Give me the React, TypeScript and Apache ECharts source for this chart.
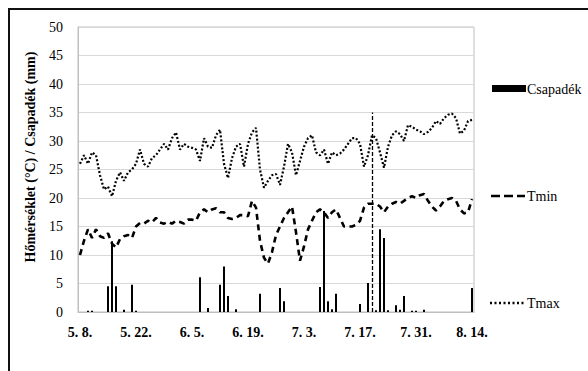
import React, { useEffect, useRef } from "react";
import * as echarts from "echarts";

// 99 daily categories, 8 May to 14 August
const startMonth = 5;
const startDay = 8;
const dayCount = 99;
const monthLengths: Record<number, number> = { 5: 31, 6: 30, 7: 31, 8: 31 };
const categories: string[] = [];
{
  let m = startMonth;
  let d = startDay;
  for (let k = 0; k < dayCount; k++) {
    categories.push(`${m}. ${d}.`);
    d++;
    if (d > monthLengths[m]) {
      d = 1;
      m++;
    }
  }
}

const rain = [
  0, 0, 0.2, 0.2, 0, 0, 0, 4.5, 12.4, 4.5,
  0, 0.4, 0, 4.8, 0.2, 0, 0, 0, 0, 0,
  0, 0, 0, 0, 0, 0, 0, 0, 0, 0,
  6.1, 0, 0.7, 0, 0, 4.8, 8, 2.8, 0, 0.5,
  0, 0, 0, 0, 0, 3.2, 0, 0, 0, 0,
  4.2, 1.9, 0, 0, 0, 0, 0, 0, 0, 0,
  4.4, 17.7, 1.9, 0.5, 3.2, 0, 0, 0, 0, 0,
  1.4, 0, 5.1, 0, 0.3, 14.5, 13, 0.3, 0, 1.2,
  0.4, 2.8, 0, 0.2, 0.2, 0, 0.4, 0, 0, 0,
  0, 0, 0, 0, 0, 0, 0, 0, 4.2,
];

const tmin = [
  10, 12.5, 14.5, 13, 14.5, 13.3, 13, 13.8, 12, 11.3,
  12.8, 13.3, 13.5, 13, 15, 15.6, 15.5, 16, 15.7, 16.5,
  15.7, 15.5, 15.8, 15.5, 16, 15.8, 15.5, 16.2, 16.2, 16,
  17.5, 18, 17.5, 18, 18.2, 17.5, 17.5, 16.5, 16.3, 16.5,
  17, 17, 16.8, 19.5, 18.3, 12.5, 9.5, 8.5, 10.5, 13.5,
  15, 16.5, 17.5, 18.5, 14, 9, 11.5, 14.5, 16, 17.5,
  18, 17.5, 16.5, 17.5, 18, 16.5, 15, 15, 15, 15.3,
  16, 18.3, 19, 19, 19, 18.5, 17.5, 18.5, 19, 19.3,
  19, 19.5, 20, 20.3, 20, 20.5, 20.7, 19.5, 18.5, 17.8,
  18.5, 19.5, 19.8, 20, 19.5, 18, 17.3, 17.5, 19.8,
];

const tmax = [
  26, 27.5, 26, 28, 27.5, 24, 21.5, 22, 20.3, 23,
  24.5, 23, 24.5, 25, 26, 28.5, 26, 25.5, 27, 27.5,
  28.5, 29.5, 28.5, 30.5, 31.5, 28.5, 29.5, 29, 28.8, 28.5,
  26.5, 30.5, 29, 28.8, 31, 32, 26, 23.5, 27, 29,
  29.5, 25.5, 29.5, 31.5, 32.3, 25, 21.8, 23, 24, 24.2,
  22.3, 25.5, 29.5, 28, 24, 26.5, 29, 30.5, 31, 28,
  27.5, 28.5, 26, 28, 27.5, 27.8, 28.5, 29.5, 30.5, 30.5,
  29.5, 25.5, 27.5, 31, 30.5, 28, 25.3, 29, 31, 31.7,
  31.2, 30, 32.8, 32.5, 32, 31.7, 31.2, 31.6, 32.3, 33.5,
  33, 34, 34.6, 34.8, 34, 31.3, 31.8, 33.5, 33.7,
];

const markerDayIndex = 73;
const markerTop = 35;

const yTitle = "Hőmérséklet (°C) / Csapadék (mm)";
const legendNames = ["Csapadék", "Tmin", "Tmax"];

const SERIF = "Liberation Serif";

const legendText = (text: string, y: number) => ({
  type: "text",
  x: 527,
  y,
  style: {
    text,
    fontFamily: SERIF,
    fontSize: 14,
    fill: "#000",
    align: "left",
    verticalAlign: "middle",
  },
});

export default function App() {
  const ref = useRef<HTMLDivElement>(null);

  useEffect(() => {
    if (!ref.current) return;
    const chart = echarts.init(ref.current, undefined, { renderer: "svg" });
    chart.setOption({
      animation: false,
      backgroundColor: "#ffffff",
      textStyle: { fontFamily: SERIF },
      grid: {
        left: 78,
        top: 27,
        width: 396,
        height: 285,
        show: true,
        borderColor: "#bfbfbf",
        borderWidth: 1,
        backgroundColor: "transparent",
      },
      xAxis: {
        type: "category",
        data: categories,
        boundaryGap: true,
        axisLine: { show: true, lineStyle: { color: "#bfbfbf", width: 1 } },
        axisTick: { show: false },
        axisLabel: {
          interval: 13,
          margin: 13,
          color: "#000",
          fontFamily: SERIF,
          fontWeight: "bold",
          fontSize: 14,
        },
        splitLine: { show: false },
      },
      yAxis: {
        type: "value",
        min: 0,
        max: 50,
        interval: 5,
        axisLine: { show: true, lineStyle: { color: "#bfbfbf", width: 1 } },
        axisTick: { show: false },
        axisLabel: {
          margin: 15,
          color: "#000",
          fontFamily: SERIF,
          fontSize: 14,
        },
        splitLine: { show: true, lineStyle: { color: "#d9d9d9", width: 1 } },
      },
      series: [
        {
          name: legendNames[0],
          type: "bar",
          data: rain,
          barWidth: 2,
          itemStyle: { color: "#000" },
          markLine: {
            silent: true,
            symbol: ["none", "none"],
            label: { show: false },
            lineStyle: { color: "#000", width: 1.3, type: [4, 2] },
            data: [
              [
                { xAxis: categories[markerDayIndex], yAxis: 0 },
                { xAxis: categories[markerDayIndex], yAxis: markerTop },
              ],
            ],
          },
        },
        {
          name: legendNames[1],
          type: "line",
          data: tmin,
          showSymbol: false,
          symbol: "none",
          lineStyle: { color: "#000", width: 2.6, type: [6, 4.5] },
        },
        {
          name: legendNames[2],
          type: "line",
          data: tmax,
          showSymbol: false,
          symbol: "none",
          lineStyle: { color: "#000", width: 2.2, type: [2, 2] },
        },
      ],
      graphic: [
        {
          type: "rect",
          shape: { x: 9, y: 9, width: 640, height: 420 },
          style: { fill: "none", stroke: "#111", lineWidth: 2 },
          silent: true,
        },
        {
          type: "text",
          x: 30,
          y: 157,
          rotation: Math.PI / 2,
          style: {
            text: yTitle,
            fontFamily: SERIF,
            fontWeight: "bold",
            fontSize: 14,
            fill: "#000",
            align: "center",
            verticalAlign: "middle",
          },
        },
        {
          type: "rect",
          shape: { x: 492, y: 85, width: 34, height: 7 },
          style: { fill: "#000" },
        },
        legendText(legendNames[0], 89),
        {
          type: "line",
          shape: { x1: 491, y1: 196, x2: 525, y2: 196 },
          style: { stroke: "#000", lineWidth: 2.6, lineDash: [9, 4] },
        },
        legendText(legendNames[1], 196),
        {
          type: "line",
          shape: { x1: 490, y1: 303, x2: 524, y2: 303 },
          style: { stroke: "#000", lineWidth: 2.4, lineDash: [2, 2.5] },
        },
        legendText(legendNames[2], 303),
      ],
    });
    return () => chart.dispose();
  }, []);

  return (
    <div
      ref={ref}
      style={{ width: 588, height: 371, position: "absolute", left: 0, top: 0 }}
    />
  );
}
